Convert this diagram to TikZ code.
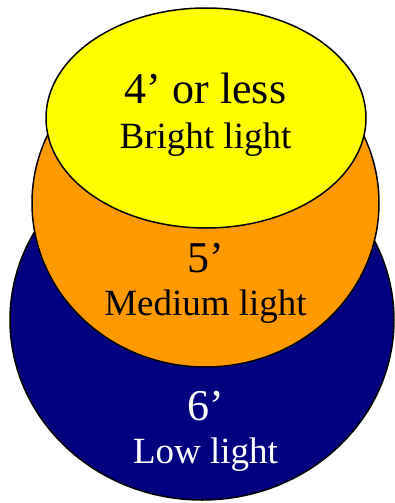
\documentclass[tikz,border=0pt]{standalone}
\usepackage{fontspec}
\setmainfont{Liberation Serif}
\definecolor{lightnavy}{HTML}{000080}
\definecolor{lightorange}{HTML}{FF9900}
\definecolor{lightyellow}{HTML}{FFFF00}
\begin{document}
\begin{tikzpicture}[x=1pt, y=-1pt, line width=1.5pt,
  zone/.style={draw=black},
  bigtext/.style={anchor=base, inner sep=0pt, font=\fontsize{44}{44}\selectfont},
  smalltext/.style={anchor=base, inner sep=0pt, font=\fontsize{37}{37}\selectfont}]
  \useasboundingbox (0,0) rectangle (394,503);

  % Light zones, from far to near
  \draw[zone, fill=lightnavy] (202,320) ellipse [x radius=192, y radius=180];
  \draw[zone, fill=lightorange] (205.5,203) ellipse [x radius=173.5, y radius=164];
  \draw[zone, fill=lightyellow] (206,118) ellipse [x radius=160, y radius=110];

  % Labels
  \node[bigtext] (near) at (205.5,103) {4’ or less};
  \node[smalltext] (bright) at (205.5,148) {Bright light};
  \node[bigtext] (mid) at (205.5,272) {5’};
  \node[smalltext] (medium) at (205.5,315) {Medium light};
  \node[bigtext, text=white] (far) at (205.5,420) {6’};
  \node[smalltext, text=white] (low) at (205.5,463) {Low light};
\end{tikzpicture}
\end{document}
